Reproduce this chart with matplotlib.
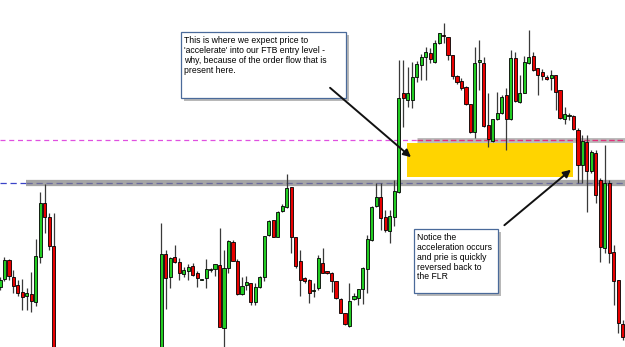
import matplotlib
matplotlib.use("Agg")
from matplotlib import pyplot as plt
from matplotlib.patches import Rectangle

#########################################################
### Candle data (price in chart points, bar index along x)

left_idx = list(range(0, 13))
right_idx = list(range(36, 140))
idx = left_idx + right_idx

opens = [63, 71, 90, 73, 65, 58, 54, 56, 48, 93, 147, 133, 104,
         -5, 96, 73, 93, 88, 76, 79, 84, 77, 70, 72, 80, 81, 85, 22, 82, 108, 89,
         56, 65, 67, 48, 63, 73, 115, 130, 113, 139, 143, 163, 113, 89, 72, 70,
         59, 62, 87, 79, 77, 69, 51, 37, 24, 51, 52, 61, 81, 110, 144, 153,
         133, 119, 133, 158, 257, 250, 250, 273, 285, 293, 297, 288, 307, 315,
         313, 295, 274, 269, 263, 246, 218, 288, 287, 225, 209, 231, 237, 255,
         231, 292, 248, 257, 287, 294, 282, 278, 273, 272, 275, 260, 231, 234,
         234, 220, 185, 208, 179, 197, 170, 102, 167, 98, 70, 26]
highs = [73, 93, 91, 80, 70, 71, 62, 78, 111, 158, 166, 137, 137,
         127, 100, 93, 105, 92, 83, 86, 87, 79, 71, 91, 82, 86, 122, 100, 110, 110,
         91, 73, 74, 67, 67, 74, 114, 130, 130, 139, 146, 176, 163, 113, 100, 73,
         71, 67, 95, 102, 79, 78, 69, 52, 37, 67, 57, 61, 83, 115, 144, 167,
         167, 140, 140, 170, 290, 290, 283, 288, 289, 296, 303, 302, 310, 317,
         327, 313, 295, 275, 272, 264, 246, 303, 310, 293, 257, 231, 258, 255,
         262, 300, 298, 275, 294, 320, 298, 282, 281, 275, 280, 275, 260, 243,
         237, 235, 222, 215, 215, 200, 200, 172, 205, 170, 105, 70, 30]
lows = [60, 69, 70, 57, 54, 40, 40, 38, 44, 87, 117, 100, -10,
        -10, 41, 62, 87, 70, 73, 70, 74, 63, 70, 62, 78, 74, 23, 3, 77, 89,
        55, 55, 60, 45, 45, 62, 69, 114, 113, 113, 138, 142, 97, 82, 54, 67,
        47, 53, 60, 77, 76, 58, 51, 37, 25, 23, 50, 45, 46, 57, 109, 143,
        120, 118, 107, 124, 157, 223, 243, 242, 268, 270, 270, 287, 287, 306,
        307, 290, 271, 266, 260, 245, 217, 212, 260, 223, 203, 208, 230, 236,
        200, 230, 248, 247, 257, 286, 279, 255, 270, 270, 260, 240, 231, 226,
        230, 220, 167, 167, 138, 177, 147, 88, 97, 87, 45, 17, 10]
closes = [70, 90, 74, 64, 57, 53, 57, 49, 94, 147, 133, 104, -5,
          96, 72, 92, 88, 77, 80, 83, 75, 72, 71, 81, 80, 86, 23, 82, 109, 89,
          56, 64, 68, 48, 63, 73, 114, 129, 113, 138, 144, 162, 113, 84, 70, 69,
          57, 59, 92, 77, 77, 69, 52, 37, 26, 49, 54, 61, 82, 111, 143, 153,
          132, 120, 134, 159, 252, 252, 257, 273, 286, 293, 298, 291, 307, 317,
          314, 295, 274, 268, 262, 246, 218, 287, 290, 224, 211, 231, 237, 253,
          231, 292, 249, 257, 288, 293, 280, 275, 274, 271, 275, 258, 232, 236,
          234, 221, 185, 209, 179, 198, 155, 103, 167, 97, 69, 27, 13]

# levels and annotation anchors (chart points / bar index)
flr_level = 167
ftb_level = 210
zone_x = (90.9, 127.9)
zone_y = (173, 207)

note1 = ("This is where we expect price to\n'accelerate' into our FTB entry level -\n"
         "why, because of the order flow that is\npresent here.")
note2 = "Notice the\nacceleration occurs\nand prie is quickly\nreversed back to\nthe FLR"

#########################################################
### Plot

fig = plt.figure(figsize=(6.25, 3.47), dpi=100)
ax = fig.add_axes([0, 0, 1, 1])
ax.set_xlim(0, 139.5)
ax.set_ylim(3, 350)
ax.axis('off')

# horizontal levels
ax.plot([0, 5.8], [flr_level, flr_level], color='#3a44c8', lw=0.9, ls=(0, (5, 3)), zorder=1)
ax.plot([5.8, 139.5], [flr_level, flr_level], color='#a6a6a6', lw=4.5, solid_capstyle='butt', zorder=1)
ax.plot([5.8, 139.5], [flr_level, flr_level], color='#6a6a9e', lw=0.9, ls=(0, (5, 3)), zorder=1.1)
ax.plot([0, 93], [ftb_level, ftb_level], color='#e050e0', lw=0.9, ls=(0, (4, 3)), zorder=1)
ax.plot([93, 139.5], [ftb_level, ftb_level], color='#b8b8b8', lw=3.5, solid_capstyle='butt', zorder=1)
ax.plot([93, 139.5], [ftb_level, ftb_level], color='#e0307a', lw=1.0, ls=(0, (4, 2)), zorder=1.1)

# entry zone
ax.add_patch(Rectangle((zone_x[0], zone_y[0]), zone_x[1] - zone_x[0], zone_y[1] - zone_y[0],
                       facecolor='#ffd400', edgecolor='none', zorder=2))

# candles
cols = ['#22cc22' if c >= o else '#e80000' for o, c in zip(opens, closes)]
ax.vlines(idx, lows, highs, color='#3a3a3a', lw=0.9, zorder=3)
bottoms = [min(o, c) for o, c in zip(opens, closes)]
heights = [max(abs(c - o), 0.6) for o, c in zip(opens, closes)]
ax.bar(idx, heights, bottom=bottoms, width=0.7, color=cols, edgecolor='black', lw=0.6, zorder=4)

# note boxes with shadow
def note_box(x0, y0, x1, y1, txt):
    ax.add_patch(Rectangle((x0 + 0.7, y0 - 3), x1 - x0, y1 - y0, facecolor='#9a9a9a',
                           edgecolor='none', alpha=0.7, zorder=5))
    ax.add_patch(Rectangle((x0, y0), x1 - x0, y1 - y0, facecolor='white',
                           edgecolor='#4a6a9a', lw=0.9, zorder=6))
    ax.text(x0 + 0.7, y1 - 4, txt, fontsize=6.2, family='Liberation Sans', va='top', ha='left',
            linespacing=1.12, zorder=7)

note_box(40.4, 252, 77.2, 318, note1)
note_box(92.4, 57, 111.2, 121, note2)

arrow = dict(arrowstyle='-|>', color='#111111', lw=1.4, mutation_scale=11)
ax.annotate('', xy=(92.2, 191), xytext=(73.2, 264), arrowprops=arrow, zorder=8)
ax.annotate('', xy=(127.9, 182), xytext=(112.1, 123), arrowprops=arrow, zorder=8)

fig.savefig('out.png', dpi=100)
